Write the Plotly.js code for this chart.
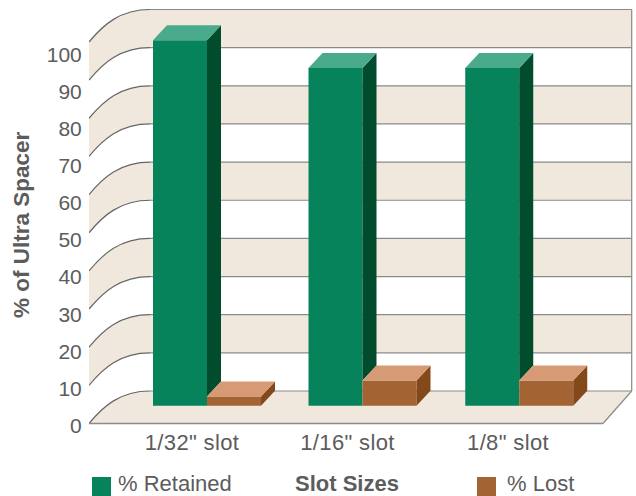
<!DOCTYPE html>
<html>
<head>
<meta charset="utf-8">
<script src="https://cdn.plot.ly/plotly-3.0.1.min.js"></script>
<style>html,body{margin:0;padding:0;background:#fff;overflow:hidden}#chart{width:636px;height:496px}
.xtick text{letter-spacing:.35px}</style>
</head>
<body>
<div id="chart"></div>
<script>
// ---- data ----
const slotLabels = ['1/32" slot', '1/16" slot', '1/8" slot'];
const retained = [95.8, 88.5, 88.5];
const lost = [2.4, 6.6, 6.6];
const scaleTicks = [0, 10, 20, 30, 40, 50, 60, 70, 80, 90, 100];
const bandLows = [10, 30, 50, 70, 90];
const seriesNames = ['% Retained', '% Lost'];

// ---- placement ----
const W = 636, H = 496;
const slotPos = [0, 1, 2.008];
const labelPos = [0, 1, 2.032];
const unitX = 155.5, unitY = 3.815;      // px per x unit, px per % on the wall
const M = {l: 89, r: 2, t: 5, b: 66};
const plotL = M.l, plotR = W - M.r, plotT = M.t, plotB = H - M.b;
const zeroX = 192, zeroY = 423.5;
const xRange = [(plotL - zeroX) / unitX, (plotR - zeroX) / unitX];
const yRange = [(zeroY - plotB) / unitY, (zeroY - plotT) / unitY];
// labels of the scale sit on a slightly tighter scale than the wall
const lblZero = 425.5, lblUnit = 3.71;
const y2Range = [(lblZero - plotB) / lblUnit, (lblZero - plotT) / lblUnit];

const wallDX = 61 / unitX, wallDY = 32.5 / unitY;
const frontX = xRange[0];
const backX = frontX + wallDX;
const rightBackX = (631.7 - zeroX) / unitX;
const rightFrontX = (603 - zeroX) / unitX;

const barW = 54 / unitX, barLift = 17.8 / unitY;
const depthX = 14 / unitX, depthY = 15 / unitY;
const greenOff = -12 / unitX, brownOff = 42 / unitX;

const c = {
  band: '#f0e8dc', curve: '#666666', line: '#8a8a8a', text: '#5c5c5c',
  gFront: '#07835b', gSide: '#004c2c', gTop: '#4aab8c',
  bFront: '#a46332', bSide: '#83491b', bTop: '#d69b74'
};

// ---- wall geometry, in axis units ----
function curve(v) {           // bezier from front edge at v to back wall at v
  const y0 = v, y1 = v + wallDY;
  return {
    start: `${frontX} ${y0}`,
    c: `C ${frontX + 14 / unitX} ${y0 + 17 / unitY} ${frontX + 31 / unitX} ${y1} ${backX} ${y1}`,
    cRev: `C ${frontX + 31 / unitX} ${y1} ${frontX + 14 / unitX} ${y0 + 17 / unitY} ${frontX} ${y0}`,
    end: `${backX} ${y1}`, y1
  };
}
const shapes = [];
bandLows.forEach(low => {
  const a = curve(low), b = curve(low + 10);
  shapes.push({type: 'path', xref: 'x', yref: 'y', layer: 'below',
    path: `M ${a.start} ${a.c} L ${rightBackX} ${a.y1} L ${rightBackX} ${b.y1} L ${b.end} ${b.cRev} Z`,
    fillcolor: c.band, line: {width: 0}});
});
const fl = curve(0);
shapes.push({type: 'path', xref: 'x', yref: 'y', layer: 'below',
  path: `M ${fl.start} ${fl.c} L ${rightBackX} ${fl.y1} L ${rightFrontX} 0 Z`,
  fillcolor: c.band, line: {width: 0}});
scaleTicks.forEach(v => {
  const k = curve(v);
  shapes.push({type: 'path', xref: 'x', yref: 'y', layer: 'below',
    path: `M ${k.start} ${k.c}`, line: {color: c.curve, width: 1.2}});
  shapes.push({type: 'line', xref: 'x', yref: 'y', layer: 'below',
    x0: backX, x1: rightBackX, y0: k.y1, y1: k.y1, line: {color: c.line, width: 1.2}});
});
shapes.push({type: 'line', xref: 'x', yref: 'y', layer: 'below', x0: rightBackX, x1: rightBackX,
  y0: wallDY, y1: 100 + wallDY, line: {color: c.line, width: 1.2}});
shapes.push({type: 'line', xref: 'x', yref: 'y', layer: 'below', x0: frontX, x1: rightFrontX,
  y0: 0, y1: 0, line: {color: c.line, width: 1.4}});
shapes.push({type: 'line', xref: 'x', yref: 'y', layer: 'below', x0: rightFrontX, x1: rightBackX,
  y0: 0, y1: wallDY, line: {color: c.line, width: 1.2}});

// ---- faces of the bars ----
function face(xs, ys, color) {
  return {type: 'scatter', mode: 'lines', x: xs.concat(xs[0]), y: ys.concat(ys[0]),
    fill: 'toself', fillcolor: color, line: {width: 0, color: color},
    hoverinfo: 'skip', showlegend: false, xaxis: 'x', yaxis: 'y'};
}
// sideFloor: how far up the side face starts (the neighbouring block hides what is below it)
function faces(vals, off, sideFloor, side, top) {
  const out = [];
  vals.forEach((v, i) => {
    const l = slotPos[i] + off - barW / 2, r = l + barW;
    const lo = barLift + sideFloor[i], hi = barLift + v;
    out.push(face([r, r + depthX, r + depthX, r], [lo, lo + depthY, hi + depthY, hi], side));
    out.push(face([l, r, r + depthX, l + depthX], [hi, hi, hi + depthY, hi + depthY], top));
  });
  return out;
}
function frontBars(vals, off, color, name) {
  return {type: 'bar', name: name, x: slotPos.map(p => p + off), y: vals, base: vals.map(() => barLift),
    width: barW, marker: {color: color, line: {width: 0}}, showlegend: false, xaxis: 'x', yaxis: 'y'};
}
const traces = [
  frontBars(retained, greenOff, c.gFront, seriesNames[0]),
  frontBars(lost, brownOff, c.bFront, seriesNames[1]),
  ...faces(retained, greenOff, lost, c.gSide, c.gTop),
  ...faces(lost, brownOff, lost.map(() => 0), c.bSide, c.bTop),
  {type: 'scatter', mode: 'markers', x: [frontX], y: [0], marker: {opacity: 0, size: 1},
   hoverinfo: 'skip', showlegend: false, xaxis: 'x', yaxis: 'y2'}
];

// ---- legend and titles, placed on the page ----
const px = x => (x - plotL) / (plotR - plotL);
const py = y => (plotB - y) / (plotB - plotT);
function swatch(x, color) {
  shapes.push({type: 'rect', xref: 'paper', yref: 'paper', x0: px(x), x1: px(x + 19),
    y0: py(496), y1: py(477), fillcolor: color, line: {width: 0}});
}
swatch(92, c.gFront);
swatch(477, c.bFront);
const fs = 21, fsBig = 22;
function note(text, x, anchor, bold) {
  return {text: bold ? `<b>${text}</b>` : text, xref: 'paper', yref: 'paper', x: px(x), y: py(484),
    xanchor: anchor, yanchor: 'middle', showarrow: false,
    font: {family: 'Liberation Sans', size: fsBig, color: c.text}};
}
const annotations = [
  note(seriesNames[0], 116, 'left'),
  note('Slot Sizes', 346.5, 'center', true),
  note(seriesNames[1], 505, 'left'),
  {text: '<b>% of Ultra Spacer</b>', xref: 'paper', yref: 'paper', x: px(21.5), y: py(224.5), textangle: -90,
   xanchor: 'center', yanchor: 'middle', showarrow: false,
   font: {family: 'Liberation Sans', size: 22.5, color: c.text}}
];

const layout = {
  width: W, height: H, margin: M, paper_bgcolor: '#fff', plot_bgcolor: 'rgba(0,0,0,0)',
  barmode: 'overlay', showlegend: false, shapes, annotations,
  font: {family: 'Liberation Sans', size: fs, color: c.text},
  xaxis: {type: 'linear', range: xRange, tickmode: 'array', tickvals: labelPos, ticktext: slotLabels,
    showgrid: false, zeroline: false, showline: false, ticks: '', ticklabelstandoff: -3,
    tickfont: {family: 'Liberation Sans', size: 22, color: c.text}},
  yaxis: {range: yRange, showgrid: false, zeroline: false, showline: false, showticklabels: false, ticks: ''},
  yaxis2: {range: y2Range, overlaying: 'y', side: 'left', anchor: 'x', tickmode: 'array', tickvals: scaleTicks,
    showgrid: false, zeroline: false, showline: false, ticks: 'outside', ticklen: 2, tickcolor: 'rgba(0,0,0,0)',
    tickfont: {family: 'Liberation Sans', size: fs, color: c.text}}
};
Plotly.newPlot('chart', traces, layout, {staticPlot: true, displayModeBar: false});
</script>
</body>
</html>
